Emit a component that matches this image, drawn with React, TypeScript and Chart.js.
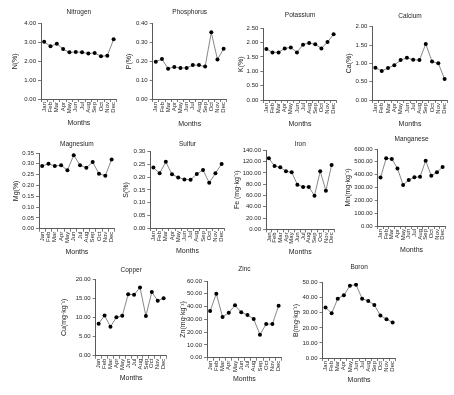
import React, { useEffect, useRef } from "react";
import { Chart, registerables } from "chart.js";
Chart.register(...registerables);

const months = ["Jan", "Feb", "Mar", "Apr", "May", "Jun", "Jul", "Aug", "Sep", "Oct", "Nov", "Dec"];
const nitrogen = [3.04, 2.8, 2.94, 2.65, 2.48, 2.5, 2.48, 2.42, 2.44, 2.27, 2.3, 3.17];
const phosphorus = [0.198, 0.212, 0.161, 0.17, 0.165, 0.165, 0.18, 0.18, 0.172, 0.354, 0.21, 0.267];
const potassium = [1.78, 1.66, 1.66, 1.8, 1.83, 1.66, 1.93, 1.99, 1.94, 1.8, 2.02, 2.29];
const calcium = [0.88, 0.79, 0.87, 0.95, 1.09, 1.15, 1.1, 1.09, 1.53, 1.05, 1.0, 0.57];
const magnesium = [0.29, 0.3, 0.29, 0.293, 0.27, 0.34, 0.293, 0.282, 0.308, 0.254, 0.245, 0.32];
const sulfur = [0.238, 0.215, 0.26, 0.211, 0.199, 0.191, 0.19, 0.212, 0.228, 0.178, 0.215, 0.252];
const iron = [125.8, 112.2, 109.9, 102.8, 101.0, 79.1, 75.0, 75.0, 59.6, 102.8, 68.5, 114.0];
const manganese = [377, 527, 522, 449, 320, 358, 379, 384, 509, 392, 418, 460];
const copper = [8.35, 10.5, 7.57, 10.0, 10.4, 16.0, 15.9, 17.8, 10.35, 16.6, 14.35, 14.96];
const zinc = [36.5, 50.1, 31.8, 35.2, 41.0, 35.5, 33.4, 30.3, 18.0, 26.3, 26.3, 40.7];
const boron = [33.5, 29.7, 39.4, 41.6, 48.0, 48.7, 39.4, 37.9, 35.2, 28.2, 25.8, 23.6];

const titles = ["Nitrogen", "Phosphorus", "Potassium", "Calcium", "Magnesium", "Sulfur", "Iron", "Manganese", "Copper", "Zinc", "Boron"];
const yLabels = ["N(%)", "P(%)", "K(%)", "Ca(%)", "Mg(%)", "S(%)", "Fe (mg·kg⁻¹)", "Mn(mg·kg⁻¹)", "Cu(mg·kg⁻¹)", "Zn(mg·kg⁻¹)", "B(mg·kg⁻¹)"];
const series = [nitrogen, phosphorus, potassium, calcium, magnesium, sulfur, iron, manganese, copper, zinc, boron];
const yMax = [4, 0.4, 2.5, 2, 0.35, 0.3, 140, 600, 20, 60, 50];
const yStep = [1, 0.1, 0.5, 0.5, 0.05, 0.05, 20, 100, 5, 10, 10];

// layout: plot left, right, top, bottom, title distance, y-title distance, x-title distance
const layouts = [
  [41, 119, 23.7, 99, 11.7, 26, 24],
  [152.7, 229, 23.7, 99, 11.7, 23.7, 24.3],
  [263.3, 339, 28.3, 100, 13.3, 22.3, 23.3],
  [372.3, 450, 26.7, 100, 11, 23, 23.7],
  [39, 116.7, 153, 228.7, 8.7, 23, 23],
  [150.3, 226.7, 151.7, 228, 7.4, 24.6, 23],
  [266, 337, 150.3, 229.3, 6, 29, 22.7],
  [377.7, 448, 149, 226, 10, 30, 24],
  [95.7, 169, 279, 355.7, 9, 32, 22.6],
  [207, 284, 281, 357.7, 11.7, 24, 21.6],
  [322.5, 398, 282.7, 358, 15.4, 26, 22],
];

const FAMILY = "'Liberation Sans', Arial, sans-serif";
const TEXT = "#1e1e1e";
const AXIS = "#5a5a5a";
const TITLE_FS = 6.5;
const AXIS_FS = 7;
const TICK_FS = 6;

function Panel({ idx }: { idx: number }) {
  const ref = useRef<HTMLCanvasElement>(null);
  const [L, R, T, B, tDist, yDist, xDist] = layouts[idx];
  const left = Math.round(L - (yDist + (AXIS_FS * 1.2) / 2));
  const yw = L - left;
  const top = Math.round(T - (tDist + (TITLE_FS * 1.2) / 2));
  const topH = T - top;
  const width = Math.ceil(R - left + 2);
  const rightPad = width - (R - left);
  const height = Math.round(B - top + xDist + (AXIS_FS * 1.2) / 2);
  const xh = height - (B - top);

  useEffect(() => {
    if (!ref.current) return;
    const chart = new Chart(ref.current, {
      type: "line",
      data: {
        labels: months,
        datasets: [
          {
            data: series[idx],
            borderColor: "#7a7a7a",
            borderWidth: 0.9,
            pointRadius: 2,
            pointBackgroundColor: "#000",
            pointBorderWidth: 0,
            tension: 0,
          },
        ],
      },
      options: {
        responsive: false,
        animation: false,
        devicePixelRatio: 1,
        layout: { padding: { left: 0, top: 0, right: rightPad, bottom: 0 } },
        plugins: {
          legend: { display: false },
          tooltip: { enabled: false },
          title: {
            display: true,
            text: titles[idx],
            fullSize: false,
            color: TEXT,
            font: { size: TITLE_FS, family: FAMILY, weight: "normal" },
            padding: { top: 0, bottom: topH - TITLE_FS * 1.2 },
          },
        },
        scales: {
          x: {
            type: "category",
            offset: true,
            grid: { display: true, drawOnChartArea: false, drawTicks: true, tickLength: 3, offset: true, color: AXIS, lineWidth: 0.8 },
            border: { display: true, color: AXIS, width: 1 },
            ticks: { autoSkip: false, minRotation: 90, maxRotation: 90, padding: 0, color: TEXT, font: { size: TICK_FS, family: FAMILY } },
            title: { display: true, text: "Months", color: TEXT, padding: 0, font: { size: AXIS_FS, family: FAMILY } },
            afterFit: (s: any) => {
              s.height = xh;
            },
          },
          y: {
            min: 0,
            max: yMax[idx],
            grid: { display: true, drawOnChartArea: false, drawTicks: true, tickLength: 3, color: AXIS, lineWidth: 0.8 },
            border: { display: true, color: AXIS, width: 1 },
            ticks: {
              stepSize: yStep[idx],
              padding: 2,
              color: TEXT,
              font: { size: TICK_FS, family: FAMILY },
              callback: (v: any) => Number(v).toFixed(2),
            },
            title: { display: true, text: yLabels[idx], color: TEXT, padding: 0, font: { size: AXIS_FS, family: FAMILY } },
            afterFit: (s: any) => {
              s.width = yw;
            },
          },
        },
      },
    });
    return () => chart.destroy();
  }, [idx]);

  return (
    <canvas
      ref={ref}
      width={width}
      height={height}
      style={{ position: "absolute", left, top, width, height, display: "block" }}
    />
  );
}

export default function App() {
  return (
    <div style={{ position: "absolute", left: 0, top: 0, width: 454, height: 395, background: "#fff", overflow: "hidden" }}>
      {titles.map((_, i) => (
        <Panel key={i} idx={i} />
      ))}
    </div>
  );
}
